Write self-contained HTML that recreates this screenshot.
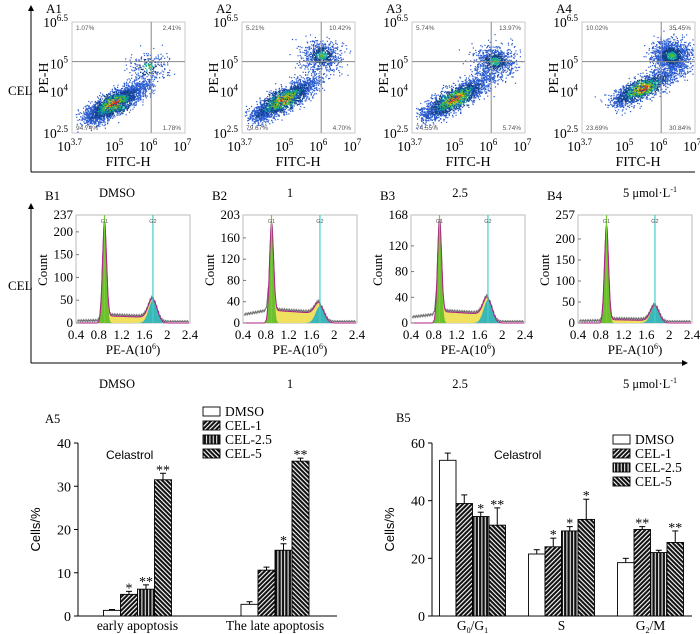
<!DOCTYPE html>
<html><head><meta charset="utf-8"><style>
html,body{margin:0;padding:0;background:#fff}
svg{display:block;font-family:"Liberation Serif",serif}
</style></head><body>
<svg id="fig" width="700" height="634" viewBox="0 0 700 634" xmlns="http://www.w3.org/2000/svg">
<defs>
<pattern id="p1" width="3.2" height="3.2" patternUnits="userSpaceOnUse" patternTransform="rotate(45)"><rect width="3.2" height="3.2" fill="#111"/><rect width="1.1" height="3.2" fill="#fff"/></pattern>
<pattern id="p2" width="3.4" height="4" patternUnits="userSpaceOnUse"><rect width="3.4" height="4" fill="#111"/><rect x="2" width="1" height="4" fill="#fff"/></pattern>
<pattern id="p3" width="3.2" height="3.2" patternUnits="userSpaceOnUse" patternTransform="rotate(-45)"><rect width="3.2" height="3.2" fill="#111"/><rect width="1.1" height="3.2" fill="#fff"/></pattern>
<marker id="arr" markerWidth="6" markerHeight="6" refX="3" refY="3" orient="auto"><path d="M0,0 L6,3 L0,6 z" fill="#000"/></marker>
</defs>
</svg>
<script>
// ---------- data ----------
const quadUL = [1.07, 5.21, 5.74, 10.02];
const quadUR = [2.41, 10.42, 13.97, 35.45];
const quadLL = [94.74, 79.67, 74.55, 23.69];
const quadLR = [1.78, 4.70, 5.74, 30.84];
const panelA = ['A1','A2','A3','A4'];
const panelB = ['B1','B2','B3','B4'];
const doseLabels = ['DMSO','1','2.5','5 μmol·L'];
// scatter cloud descriptions (log10 units)
const mainStartX = [4.3, 4.2, 4.2, 4.8];
const mainStartY = [3.1, 3.2, 3.2, 3.7];
const mainEndX = [5.7, 5.8, 5.9, 6.3];
const mainEndY = [4.2, 4.4, 4.5, 4.7];
const upperX = [5.9, 6.0, 6.1, 6.3];
const upperY = [4.9, 5.3, 5.1, 5.3];
const upperShare = [0.08, 0.22, 0.27, 0.45];
// histograms
const histMax = [237, 203, 168, 257];
const histTicks = [[0,50,100,150,200],[0,40,80,120,160],[0,40,80,120,160],[0,50,100,150,200,250]];
const g1Peak = [220, 185, 160, 232];
const g2Peak = [50, 32, 36, 40];
const sLevel = [16, 24, 18, 8];
const debris = [3, 22, 12, 3];
const histXTicks = ['0.4','0.8','1.2','1.6','2','2.4'];
// bar charts
const seriesNames = ['DMSO','CEL-1','CEL-2.5','CEL-5'];
const a5Cats = ['early apoptosis','The late apoptosis'];
const a5Vals = [[1.3,5.0,6.2,31.5],[2.7,10.6,15.2,35.8]];
const a5Err = [[0.2,0.7,1.0,1.5],[0.6,0.7,1.5,0.7]];
const a5Stars = [['','*','**','**'],['','','*','**']];
const a5Ticks = [0,10,20,30,40];
const b5Cats = ['G0/G1','S','G2/M'];
const b5Vals = [[54,39,34.5,31.5],[21.5,24,29.5,33.5],[18.5,30,22,25.5]];
const b5Err = [[2.5,3,1.5,6],[1.5,3,1.5,7],[1.5,1,0.8,4]];
const b5Stars = [['','','*','**'],['','*','*','*'],['','**','','**']];
const b5Ticks = [0,20,40,60];

const svg = document.getElementById('fig');
const NS = 'http://www.w3.org/2000/svg';
function mk(tag, attrs, name, parent){
  const el = document.createElementNS(NS, tag);
  for (const k in attrs) el.setAttribute(k, attrs[k]);
  
  
  (parent||svg).appendChild(el);
  return el;
}
function txt(x,y,s,size,name,anchor,extra){
  const t = mk('text', Object.assign({x:x,y:y,'font-size':size,'text-anchor':anchor||'start'}, extra||{}), name);
  t.textContent = s; return t;
}
function powLabel(x,y,exp,name){
  const t = mk('text',{x:x,y:y,'font-size':13.5,'text-anchor':'end'},name);
  const a = document.createElementNS(NS,'tspan'); a.textContent='10'; t.appendChild(a);
  const b = document.createElementNS(NS,'tspan'); b.setAttribute('dy','-6'); b.setAttribute('font-size','9'); b.textContent=exp; t.appendChild(b);
  return t;
}
let seed = 12345;
function rnd(){ seed = (seed*16807) % 2147483647; return seed/2147483647; }
function gauss(){ let u=rnd()||1e-9, v=rnd(); return Math.sqrt(-2*Math.log(u))*Math.cos(2*Math.PI*v); }

// ---------- frame axes ----------
mk('line',{x1:31,y1:172,x2:31,y2:8,stroke:'#000','stroke-width':1,'marker-end':'url(#arr)'},'row-a-axis-arrow');
mk('line',{x1:31,y1:172,x2:695,y2:172,stroke:'#000','stroke-width':1},'row-a-baseline');
txt(8,95,'CEL',13,'row-a-cel-label');
mk('line',{x1:31,y1:363,x2:31,y2:206,stroke:'#000','stroke-width':1,'marker-end':'url(#arr)'},'row-b-axis-arrow');
mk('line',{x1:31,y1:363,x2:685,y2:363,stroke:'#000','stroke-width':1,'marker-end':'url(#arr)'},'row-b-baseline');
txt(8,290,'CEL',13,'row-b-cel-label');

// ---------- scatter panels ----------
const aLeft = [72,242,412,582];
for (let p=0;p<4;p++){
  const L = aLeft[p], T=22, B=133, R=L+113;
  const X = v => L+1+(v-3.7)*34;
  const Y = v => B-(v-2.5)*27.75;
  txt(L-26,13,panelA[p],13,'panel-label-'+panelA[p]);
  mk('rect',{x:L,y:T,width:R-L,height:B-T,fill:'#fff',stroke:'#bbb','stroke-width':0.8},'scatter-plot-box');
  const g = mk('g',{},'scatter-points');
  const N = 3000;
  for (let i=0;i<N;i++){
    let x,y,d;
    if (rnd()<upperShare[p]){
      x = upperX[p]+gauss()*0.3; y = upperY[p]+gauss()*0.28;
      d = Math.hypot(x-upperX[p],y-upperY[p])/0.3;
      d = d*1.4+1.0;
    } else {
      const t = Math.min(1.05,Math.max(-0.05,0.42+gauss()*0.3));
      const cx = mainStartX[p]+t*(mainEndX[p]-mainStartX[p]);
      const cy = mainStartY[p]+t*(mainEndY[p]-mainStartY[p]);
      const n1=gauss(), n2=gauss();
      x = cx+n1*0.2; y = cy+n2*0.16;
      d = Math.abs(t-0.42)*4.5+Math.hypot(n1,n2)*0.9;
    }
    if (x<3.75||x>6.95||y<2.55||y>6.45) continue;
    const col = d<0.6?'#d22':d<0.95?'#eb1':d<1.3?'#5b2':d<1.7?'#1a9':d<2.4?'#13408a':'#2a5bd0';
    mk('rect',{x:X(x).toFixed(1),y:Y(y).toFixed(1),width:1.2,height:1.2,fill:col},'scatter-point',g);
  }
  mk('line',{x1:X(6),y1:T,x2:X(6),y2:B,stroke:'#888','stroke-width':1},'quadrant-line-vertical');
  mk('line',{x1:L,y1:Y(5.07),x2:R,y2:Y(5.07),stroke:'#888','stroke-width':1},'quadrant-line-horizontal');
  txt(L+4,30,quadUL[p].toFixed(2)+'%',6.5,'quadrant-ul-percent','start',{fill:'#555','font-family':'Liberation Sans, sans-serif'});
  txt(R-4,30,quadUR[p].toFixed(2)+'%',6.5,'quadrant-ur-percent','end',{fill:'#555','font-family':'Liberation Sans, sans-serif'});
  txt(L+4,130,quadLL[p].toFixed(2)+'%',6.5,'quadrant-ll-percent','start',{fill:'#555','font-family':'Liberation Sans, sans-serif'});
  txt(R-4,130,quadLR[p].toFixed(2)+'%',6.5,'quadrant-lr-percent','end',{fill:'#555','font-family':'Liberation Sans, sans-serif'});
  powLabel(L-4,T+5,'6.5','y-tick-label');
  powLabel(L-4,Y(5)+5,'5','y-tick-label');
  powLabel(L-4,Y(4)+5,'4','y-tick-label');
  powLabel(L-4,B+5,'2.5','y-tick-label');
  [['3.7',3.7],['5',5],['6',6],['7',7]].forEach(e=>{ powLabel(X(e[1])+ (e[0]==='3.7'?9:6),151,e[0],'x-tick-label'); });
  txt(L+56,166,'FITC-H',14,'x-axis-title','middle');
  txt(0,0,'PE-H',14,'y-axis-title','middle',{transform:'translate('+(L-24)+',78) rotate(-90)'});
}
const doseX = [117,290,460,650];
for (let p=0;p<4;p++){
  [197,388].forEach((yy,r)=>{
    const t = txt(doseX[p],yy,doseLabels[p],12.5,'dose-label','middle');
    if (p===3){ const s=document.createElementNS(NS,'tspan'); s.setAttribute('dy','-5'); s.setAttribute('font-size','8'); s.textContent='-1'; t.appendChild(s); }
  });
}

// ---------- histogram panels ----------
const bLeft = [76,243,411,578];
function gau(x,m,s){ return Math.exp(-0.5*((x-m)/s)**2); }
for (let p=0;p<4;p++){
  const L=bLeft[p], R=L+114, T=215, B=323;
  const X = v => L+(v-0.4)*57;
  const Y = c => B-c/histMax[p]*(B-T);
  txt(L-31,200,panelB[p],13,'panel-label-'+panelB[p]);
  mk('rect',{x:L,y:T,width:R-L,height:B-T,fill:'#fff',stroke:'#bbb','stroke-width':1},'histogram-plot-box');
  const xs=[]; for(let v=0.42; v<=2.38; v+=0.01) xs.push(v);
  const g1 = v=>g1Peak[p]*gau(v,0.9,0.035);
  const g2 = v=>g2Peak[p]*gau(v,1.75,0.075);
  const sp = v=>(v>0.9&&v<1.75? sLevel[p]*(1-0.3*(v-0.9)):0)*(1/(1+Math.exp(-(v-0.93)*60)))*(1/(1+Math.exp((v-1.72)*30)));
  const db = v=>v<0.85? debris[p]*(0.6+0.4*(v-0.4)/0.45):0;
  const area = (f,name,fill)=>{
    let d='M'+X(xs[0])+','+B;
    xs.forEach(v=>{ d+=' L'+X(v).toFixed(1)+','+Y(f(v)).toFixed(1); });
    d+=' L'+X(xs[xs.length-1])+','+B+' Z';
    mk('path',{d:d,fill:fill,stroke:'none'},name);
  };
  area(v=>sp(v)+g1(v)+(v>1.2?g2(v):0),'s-phase-area','#f0e060');
  area(g1,'g1-peak-area','#6cc030');
  area(v=>v>1.3?g2(v):0,'g2-peak-area','#3bb7b7');
  let dl='', dr='';
  xs.forEach((v,i)=>{
    const tot = g1(v)+g2(v)+sp(v);
    dl+=(i?' L':'M')+X(v).toFixed(1)+','+Y(tot).toFixed(1);
    const raw = tot+db(v)+((i%3)-1)*histMax[p]*0.01;
    dr+=(i?' L':'M')+X(v).toFixed(1)+','+Y(Math.max(0,raw)+histMax[p]*0.012).toFixed(1);
  });
  mk('path',{d:dr,fill:'none',stroke:'#666','stroke-width':0.8},'raw-histogram-line');
  mk('path',{d:dl,fill:'none',stroke:'#b0208a','stroke-width':1},'model-fit-line');
  mk('line',{x1:X(0.9),y1:T,x2:X(0.9),y2:B,stroke:'#7c3','stroke-width':1.2},'g1-marker');
  mk('line',{x1:X(1.75),y1:T,x2:X(1.75),y2:B,stroke:'#4cc','stroke-width':1.2},'g2-marker');
  txt(X(0.9),223,'G1',5.5,'g1-label','middle',{fill:'#555','font-family':'Liberation Sans, sans-serif'});
  txt(X(1.75),223,'G2',5.5,'g2-label','middle',{fill:'#555','font-family':'Liberation Sans, sans-serif'});
  txt(L-3,T+4,String(histMax[p]),13,'y-tick-label','end');
  histTicks[p].forEach(v=>{
    if (histMax[p]-v < 12) return;
    txt(L-3,Y(v)+4,String(v),13,'y-tick-label','end');
    mk('line',{x1:L,y1:Y(v),x2:L+3,y2:Y(v),stroke:'#777'},'y-tick');
  });
  histXTicks.forEach(s=>{ txt(X(parseFloat(s)),339,s,13,'x-tick-label','middle'); });
  const t = txt(L+57,354,'PE-A(10',13,'x-axis-title','middle');
  const s1=document.createElementNS(NS,'tspan'); s1.setAttribute('dy','-5'); s1.setAttribute('font-size','8'); s1.textContent='6'; t.appendChild(s1);
  const s2=document.createElementNS(NS,'tspan'); s2.setAttribute('dy','5'); s2.textContent=')'; t.appendChild(s2);
  txt(0,0,'Count',13,'y-axis-title','middle',{transform:'translate('+(L-29)+',270) rotate(-90)'});
}

// ---------- bar charts ----------
const fills = ['#fff','url(#p1)','url(#p2)','url(#p3)'];
function barChart(o){
  const Y = v => o.y0 - v/o.vmax*(o.y0-o.ytop);
  txt(o.labelX,o.labelY,o.label,12.5,'panel-label-'+o.label);
  mk('line',{x1:o.ax,y1:o.ytop,x2:o.ax,y2:o.y0,stroke:'#000'},'y-axis');
  mk('line',{x1:o.ax,y1:o.y0,x2:o.axEnd,y2:o.y0,stroke:'#000'},'x-axis');
  o.ticks.forEach(v=>{
    mk('line',{x1:o.ax-4,y1:Y(v),x2:o.ax,y2:Y(v),stroke:'#000'},'y-tick');
    txt(o.ax-7,Y(v)+5,String(v),14,'y-tick-label','end');
  });
  txt(0,0,'Cells/%',13,'y-axis-title','middle',{transform:'translate('+(o.ax-38)+','+((o.y0+o.ytop)/2)+') rotate(-90)','font-family':'Liberation Sans, sans-serif'});
  txt(o.celX,o.celY,'Celastrol',12,'celastrol-label','start',{'font-family':'Liberation Sans, sans-serif'});
  o.vals.forEach((grp,gi)=>{
    const gx = o.g0 + gi*o.gstep;
    grp.forEach((v,si)=>{
      const x = gx + si*o.bw;
      mk('rect',{x:x,y:Y(v),width:o.bw,height:o.y0-Y(v),fill:fills[si],stroke:'#000','stroke-width':0.9},'bar-'+seriesNames[si].toLowerCase()+'-'+gi);
      const top = Y(v+o.err[gi][si]);
      mk('line',{x1:x+o.bw/2,y1:Y(v),x2:x+o.bw/2,y2:top,stroke:'#000','stroke-width':1},'error-bar');
      mk('line',{x1:x+o.bw/2-3,y1:top,x2:x+o.bw/2+3,y2:top,stroke:'#000','stroke-width':1},'error-cap');
      if (o.stars[gi][si]) txt(x+o.bw/2,top+1,o.stars[gi][si],14,'significance-star','middle');
    });
    const cx = gx + 2*o.bw;
    const t = txt(cx,o.y0+14,'',13.5,'x-category-label','middle');
    const c = o.cats[gi];
    if (c==='G0/G1' || c==='G2/M'){
      const parts = c==='G0/G1'?[['G',0],['0',1],['/G',-1],['1',1]]:[['G',0],['2',1],['/M',-1]];
      parts.forEach(pt=>{ const s=document.createElementNS(NS,'tspan'); s.textContent=pt[0]; if(pt[1]===1){s.setAttribute('font-size','8');s.setAttribute('dy','3');} else if(pt[1]===-1){s.setAttribute('dy','-3');} t.appendChild(s); });
    } else t.textContent = c;
  });
  o.legendY.forEach((ly,si)=>{
    mk('rect',{x:o.legX,y:ly-8,width:17,height:9,fill:fills[si],stroke:'#000','stroke-width':0.9},'legend-swatch-'+seriesNames[si].toLowerCase());
    txt(o.legX+22,ly+1,seriesNames[si],13.5,'legend-entry','start');
  });
}
barChart({label:'A5',labelX:45,labelY:423,ax:78,axEnd:337,y0:616,ytop:443,vmax:40,ticks:a5Ticks,
  vals:a5Vals,err:a5Err,stars:a5Stars,cats:a5Cats,g0:103.5,gstep:137.5,bw:17,celX:106,celY:459,
  legX:203,legendY:[415,429,443,457]});
barChart({label:'B5',labelX:396,labelY:422,ax:432,axEnd:692,y0:616,ytop:443,vmax:60,ticks:b5Ticks,
  vals:b5Vals,err:b5Err,stars:b5Stars,cats:b5Cats,g0:439.5,gstep:89,bw:16.5,celX:494,celY:459,
  legX:613,legendY:[443,457,471,485]});
</script>
</body></html>
